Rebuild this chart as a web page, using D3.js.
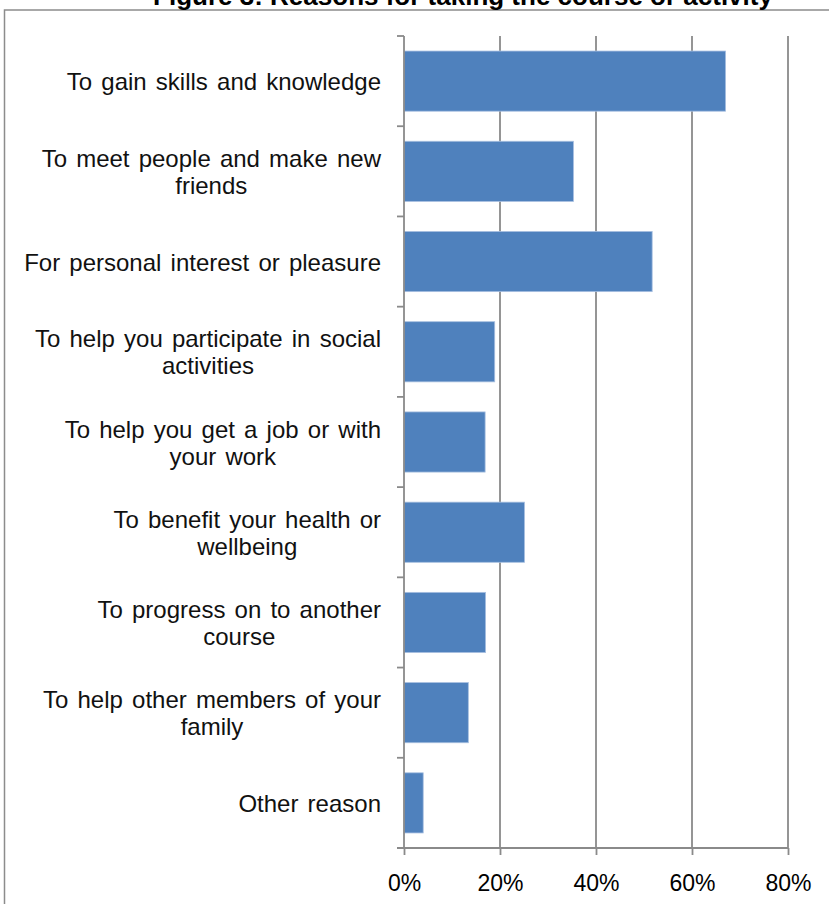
<!DOCTYPE html>
<html>
<head>
<meta charset="utf-8">
<script src="https://cdn.jsdelivr.net/npm/d3@7"></script>
<style>
  html, body { margin: 0; padding: 0; background: #fff; }
  svg { display: block; font-family: "Liberation Sans", Arial, sans-serif; }
</style>
</head>
<body>
<svg id="chart" width="829" height="904"></svg>
<script>
// Reasons given for taking a course, share of respondents
const chartTitle = "Figure 3: Reasons for taking the course or activity";
const reasonLines = [
  ["To gain skills and knowledge"],
  ["To meet people and make new", "friends"],
  ["For personal interest or pleasure"],
  ["To help you participate in social", "activities"],
  ["To help you get a job or with", "your work"],
  ["To benefit your health or", "wellbeing"],
  ["To progress on to another", "course"],
  ["To help other members of your", "family"],
  ["Other reason"]
];
const shares = [0.67, 0.353, 0.517, 0.189, 0.169, 0.251, 0.170, 0.134, 0.040];
const xTickValues = [0, 0.2, 0.4, 0.6, 0.8];

const svg = d3.select("#chart");
const plot = { left: 404, right: 788, top: 36, bottom: 848 };

// Outer chart frame (extends past the visible page on the right and bottom)
svg.append("rect")
  .attr("x", 4.5).attr("y", 10)
  .attr("width", 900).attr("height", 1000)
  .attr("fill", "none")
  .attr("stroke", "#8c8c8c")
  .attr("stroke-width", 1.5);

// Title, sitting above the frame's top edge
svg.append("text")
  .attr("x", 463).attr("y", 5)
  .attr("text-anchor", "middle")
  .attr("font-size", 26)
  .attr("font-weight", "bold")
  .attr("fill", "#000")
  .text(chartTitle);

const x = d3.scaleLinear().domain([0, 0.8]).range([plot.left, plot.right]);
const y = d3.scaleBand()
  .domain(d3.range(shares.length))
  .range([plot.top, plot.bottom])
  .paddingInner(1 / 3)
  .paddingOuter(1 / 6);

const gridColor = "#8a8a8a";

// Vertical gridlines
svg.append("g")
  .selectAll("line")
  .data(xTickValues.filter(v => v > 0))
  .join("line")
  .attr("x1", d => x(d)).attr("x2", d => x(d))
  .attr("y1", plot.top).attr("y2", plot.bottom)
  .attr("stroke", gridColor)
  .attr("stroke-width", 1.8);

// Bars
svg.append("g")
  .selectAll("rect")
  .data(shares)
  .join("rect")
  .attr("x", x(0))
  .attr("y", (d, i) => y(i))
  .attr("width", d => x(d) - x(0))
  .attr("height", y.bandwidth())
  .attr("fill", "#4f81bd")
  .attr("stroke", "#a7bfe0")
  .attr("stroke-width", 0.8);

// X axis with percentage labels
const xAxis = d3.axisBottom(x)
  .tickValues(xTickValues)
  .tickFormat(d3.format(".0%"))
  .tickSize(7)
  .tickSizeOuter(0)
  .tickPadding(20);

const gx = svg.append("g")
  .attr("transform", `translate(0,${plot.bottom})`)
  .call(xAxis);
gx.select(".domain").remove();
gx.selectAll(".tick line").attr("stroke", gridColor).attr("stroke-width", 1.8);
gx.selectAll(".tick text")
  .attr("font-family", "Liberation Sans, Arial, sans-serif")
  .attr("font-size", 23)
  .attr("fill", "#000");
gx.append("line")
  .attr("x1", x(0) - 7).attr("x2", x(0.8))
  .attr("y1", 0).attr("y2", 0)
  .attr("stroke", gridColor)
  .attr("stroke-width", 1.8);

// Y axis line and category boundary ticks
const boundaries = d3.range(shares.length + 1).map(i => plot.top + i * y.step());
const gy = svg.append("g");
gy.append("line")
  .attr("x1", x(0)).attr("x2", x(0))
  .attr("y1", plot.top).attr("y2", plot.bottom)
  .attr("stroke", gridColor)
  .attr("stroke-width", 1.8);
gy.selectAll("line.tick")
  .data(boundaries.slice(0, -1))
  .join("line")
  .attr("class", "tick")
  .attr("x1", x(0) - 7).attr("x2", x(0))
  .attr("y1", d => d).attr("y2", d => d)
  .attr("stroke", gridColor)
  .attr("stroke-width", 1.8);

// Category labels: block right-aligned, lines centred within the block
const labelRight = 381;
const lineGap = 27;
const labelG = svg.append("g")
  .attr("font-size", 24)
  .attr("word-spacing", "2.5px")
  .attr("fill", "#111");

reasonLines.forEach((lines, i) => {
  const cy = y(i) + y.bandwidth() / 2;
  const g = labelG.append("g");
  const texts = lines.map((ln, j) =>
    g.append("text")
      .attr("y", cy + 9 + (j - (lines.length - 1) / 2) * lineGap)
      .attr("text-anchor", "middle")
      .text(ln));
  const maxW = d3.max(texts, t => t.node().getComputedTextLength());
  texts.forEach(t => t.attr("x", labelRight - maxW / 2));
});
</script>
</body>
</html>
